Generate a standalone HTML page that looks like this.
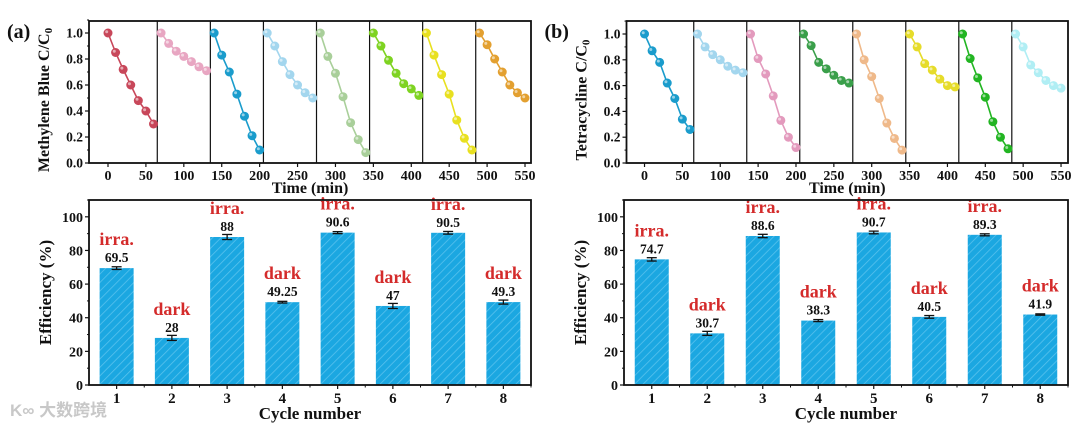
<!DOCTYPE html>
<html><head><meta charset="utf-8"><style>
body{margin:0;background:#fff;}
svg{display:block;font-family:"Liberation Serif",serif;font-weight:bold;}
</style></head><body>
<svg id="fig" width="1080" height="427" viewBox="0 0 1080 427" xmlns="http://www.w3.org/2000/svg">
<defs>
<pattern id="hatch" patternUnits="userSpaceOnUse" width="6" height="6" patternTransform="rotate(45)">
<rect width="6" height="6" fill="#1ba7e1"/><line x1="0" y1="0" x2="0" y2="6" stroke="#5cc3ee" stroke-width="1.5"/>
</pattern>
</defs>
</svg>
<script>
const times = [0,10,20,30,40,50,60];
const segStarts = [0,70,140,210,280,350,420,490];
const separators = [65,135,205,275,345,415,485];
const xTicks = [0,50,100,150,200,250,300,350,400,450,500,550];
const yTicksTop = [0,0.2,0.4,0.6,0.8,1.0];
const yTicksBar = [0,20,40,60,80,100];
const cycles = [1,2,3,4,5,6,7,8];
const mbSeries = [
 [1,.85,.72,.60,.48,.40,.30],
 [1,.92,.86,.82,.78,.74,.71],
 [1,.83,.70,.53,.36,.21,.10],
 [1,.90,.78,.68,.60,.54,.50],
 [1,.82,.69,.51,.31,.18,.08],
 [1,.90,.79,.69,.61,.57,.52],
 [1,.83,.68,.53,.33,.19,.10],
 [1,.91,.80,.70,.60,.54,.50]];
const tcSeries = [
 [1,.87,.78,.62,.50,.34,.26],
 [1,.90,.84,.80,.75,.72,.70],
 [1,.81,.69,.52,.33,.20,.12],
 [1,.91,.78,.73,.68,.64,.62],
 [1,.80,.67,.50,.31,.19,.10],
 [1,.90,.77,.72,.65,.60,.59],
 [1,.81,.66,.51,.32,.20,.11],
 [1,.90,.76,.70,.64,.60,.58]];
const mbEff = [69.5,28,88,49.25,90.6,47,90.5,49.3];
const mbErr = [0.8,1.5,1.5,0.5,0.6,1.5,0.8,1.2];
const mbLabels = ["69.5","28","88","49.25","90.6","47","90.5","49.3"];
const tcEff = [74.7,30.7,88.6,38.3,90.7,40.5,89.3,41.9];
const tcErr = [1.0,1.2,1.0,0.6,0.8,0.8,0.6,0.4];
const tcLabels = ["74.7","30.7","88.6","38.3","90.7","40.5","89.3","41.9"];
const conditions = ["irra.","dark","irra.","dark","irra.","dark","irra.","dark"];
const mbColors = ['#c8475a','#e8a6c2','#1a9ccc','#a3d6ee','#a9cf9a','#7ed321','#e8e020','#e3a030'];
const tcColors = ['#1a9ccc','#a3d6ee','#e39abd','#3a9f4a','#efb98a','#e6dc2a','#22b522','#b0eef4'];

const svg = document.getElementById('fig');
const NS = 'http://www.w3.org/2000/svg';
function mk(tag, attrs, parent, text){
  const e = document.createElementNS(NS, tag);
  for (const k in attrs) e.setAttribute(k, attrs[k]);
  if (text !== undefined) e.textContent = text;
  (parent||svg).appendChild(e);
  return e;
}

function linePanel(P, series, colors, title, letter, id){
  const g = mk('g', {});
  
  
  const xs = v => P.x0 + (v - P.d0) * (P.x1 - P.x0) / (P.d1 - P.d0);
  const ys = v => P.yb - v * (P.yb - P.y1v) / 1.0;
  separators.forEach(s => {
    const l = mk('line', {x1:xs(s), x2:xs(s), y1:P.top, y2:P.yb, stroke:'#111','stroke-width':1.2}, g);
    
    
  });
  series.forEach((vals, i) => {
    const sg = mk('g', {}, g);
    
    
    const pts = vals.map((v,j) => xs(segStarts[i]+times[j]).toFixed(1)+','+ys(v).toFixed(1)).join(' ');
    mk('polyline', {points:pts, fill:'none', stroke:colors[i], 'stroke-width':1.6}, sg);
    vals.forEach((v,j) => {
      const c = mk('circle', {cx:xs(segStarts[i]+times[j]), cy:ys(v), r:4.5, fill:colors[i]}, sg);
      
      
      mk('circle', {cx:xs(segStarts[i]+times[j])-1.3, cy:ys(v)-1.3, r:1.5, fill:'#fff', opacity:0.55}, sg);
    });
  });
  const fr = mk('rect', {x:P.x0, y:P.top, width:P.x1-P.x0, height:P.yb-P.top, fill:'none', stroke:'#111','stroke-width':1.8}, g);
  
  
  xTicks.forEach(t => {
    mk('line', {x1:xs(t), x2:xs(t), y1:P.yb, y2:P.yb+4, stroke:'#111','stroke-width':1.2}, g);
    const tx = mk('text', {x:xs(t), y:P.yb+17, 'font-size':14, 'text-anchor':'middle', fill:'#111'}, g, String(t));
    
    
  });
  yTicksTop.forEach(t => {
    mk('line', {x1:P.x0-4, x2:P.x0, y1:ys(t), y2:ys(t), stroke:'#111','stroke-width':1.2}, g);
    mk('line', {x1:P.x0-2, x2:P.x0, y1:ys(t+0.1), y2:ys(t+0.1), stroke:'#111','stroke-width':1}, g);
    const tx = mk('text', {x:P.x0-6, y:ys(t)+4.5, 'font-size':13.5, 'text-anchor':'end', fill:'#111'}, g, t.toFixed(1));
    
    
  });
  const xt = mk('text', {x:(P.x0+P.x1)/2, y:P.yb+30, 'font-size':16, 'text-anchor':'middle', fill:'#111'}, g, 'Time (min)');
  
  
  const yt = mk('text', {transform:`translate(${P.x0-40},${(P.top+P.yb)/2+8}) rotate(-90)`, 'font-size':16, 'text-anchor':'middle', fill:'#111'}, g);
  
  
  yt.innerHTML = title + ' C/C<tspan font-size="11" dy="3">0</tspan>';
  const lb = mk('text', {x:P.x0-82, y:P.top+17, 'font-size':20, fill:'#111'}, g, letter);
  
  
}

function barPanel(P, eff, err, labels, id){
  const g = mk('g', {});
  
  
  const xs = v => P.x0 + (v - 0.5) * (P.x1 - P.x0) / 8;
  const ys = v => P.yb - v * (P.yb - P.top) / 110;
  const bw = 34;
  eff.forEach((v,i) => {
    const cx = xs(cycles[i]);
    const b = mk('rect', {x:cx-bw/2, y:ys(v), width:bw, height:P.yb-ys(v), fill:'url(#hatch)'}, g);
    
    
    const e1 = ys(v+err[i]), e2 = ys(v-err[i]);
    mk('line', {x1:cx, x2:cx, y1:e1, y2:e2, stroke:'#111','stroke-width':1.3}, g);
    mk('line', {x1:cx-5, x2:cx+5, y1:e1, y2:e1, stroke:'#111','stroke-width':1.3}, g);
    mk('line', {x1:cx-5, x2:cx+5, y1:e2, y2:e2, stroke:'#111','stroke-width':1.3}, g);
    const vl = mk('text', {x:cx, y:ys(v)-6, 'font-size':13.5, 'text-anchor':'middle', fill:'#111'}, g, labels[i]);
    
    
    const cl = mk('text', {x:cx, y:ys(v)-23, 'font-size':18, 'text-anchor':'middle', fill:'#d42b2b'}, g, conditions[i]);
    
    
    mk('line', {x1:cx, x2:cx, y1:P.yb, y2:P.yb+4, stroke:'#111','stroke-width':1.2}, g);
    mk('line', {x1:cx+(xs(2)-xs(1))/2, x2:cx+(xs(2)-xs(1))/2, y1:P.yb, y2:P.yb+2.5, stroke:'#111','stroke-width':1}, g);
    const tx = mk('text', {x:cx, y:P.yb+18, 'font-size':15, 'text-anchor':'middle', fill:'#111'}, g, String(cycles[i]));
    
    
  });
  yTicksBar.forEach(t => {
    mk('line', {x1:P.x0-4, x2:P.x0, y1:ys(t), y2:ys(t), stroke:'#111','stroke-width':1.2}, g);
    mk('line', {x1:P.x0-2, x2:P.x0, y1:ys(t+10), y2:ys(t+10), stroke:'#111','stroke-width':1}, g);
    const tx = mk('text', {x:P.x0-6, y:ys(t)+5, 'font-size':14, 'text-anchor':'end', fill:'#111'}, g, String(t));
    
    
  });
  const fr = mk('rect', {x:P.x0, y:P.top, width:P.x1-P.x0, height:P.yb-P.top, fill:'none', stroke:'#111','stroke-width':1.8}, g);
  
  
  const xt = mk('text', {x:(P.x0+P.x1)/2, y:P.yb+34, 'font-size':17, 'text-anchor':'middle', fill:'#111'}, g, 'Cycle number');
  
  
  const yt = mk('text', {transform:`translate(${P.x0-38},${(P.top+P.yb)/2}) rotate(-90)`, 'font-size':17, 'text-anchor':'middle', fill:'#111'}, g, 'Efficiency (%)');
  
  
}

linePanel({x0:89, x1:531, d0:-25.06, d1:557.9, top:21, yb:163, y1v:33}, mbSeries, mbColors, 'Methylene Blue ', '(a)', 'mb');
linePanel({x0:626.5, x1:1068, d0:-23.8, d1:559.2, top:21, yb:163, y1v:34}, tcSeries, tcColors, 'Tetracycline', '(b)', 'tc');
barPanel({x0:89, x1:531, top:200, yb:385}, mbEff, mbErr, mbLabels, 'mb');
barPanel({x0:624, x1:1068, top:200, yb:385}, tcEff, tcErr, tcLabels, 'tc');

const wm = mk('text', {x:10, y:416, 'font-size':17, fill:'#c8c8c8', 'font-family':'"Liberation Sans","Noto Sans CJK SC",sans-serif'}, svg, 'K∞ 大数跨境');


</script>
</body></html>
